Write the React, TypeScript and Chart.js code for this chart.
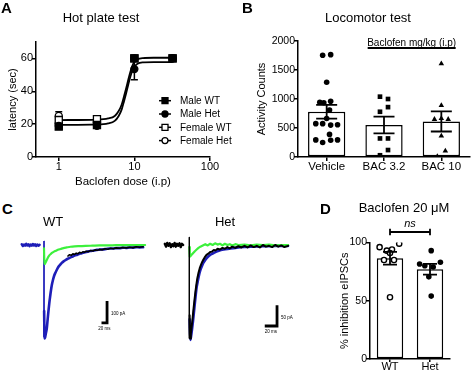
import React, { useEffect, useRef } from 'react';
import { Chart, registerables } from 'chart.js';

Chart.register(...registerables);

const FONT = "'Liberation Sans', Arial, Helvetica, sans-serif";
Chart.defaults.font.family = FONT;
Chart.defaults.color = '#000';

// ===== Panel A: Hot plate test =====
const doses = [1, 3.2, 10, 32];
const maleWT = [18.5, 19.5, 60, 60];
const maleWTErr = [1.5, 1.5, 0, 0];
const maleHet = [19, 19, 53.5, 60];
const maleHetErr = [1.5, 1, 6.5, 0];
const femaleWT = [22.5, 23, 60, 60];
const femaleWTErr = [2, 1.5, 0, 0];
const femaleHet = [25, 21, 60, 60];
const femaleHetErr = [2.5, 1.5, 0, 0];
const fitDoses = [1, 3.2, 4.5, 5.5, 6.2, 6.8, 7.3, 7.8, 8.3, 8.8, 9.4, 10, 11, 13, 18, 32];
const fitUpper = [22.5, 22.8, 23.5, 25, 28, 32, 37, 42, 47, 51.5, 55.5, 58, 59.5, 60.2, 60.4, 60.4];
const fitLower = [19.5, 19.8, 20.5, 22, 25, 29, 34, 39, 44, 48.5, 52.5, 55, 56.8, 57.6, 57.8, 57.8];
const latencyTicks = [0, 20, 40, 60];
const doseTicks = [1, 10, 100];
const legendLabelsA = ['Male WT', 'Male Het', 'Female WT', 'Female Het'];

// ===== Panel B: Locomotor test =====
const locoCategories = ['Vehicle', 'BAC 3.2', 'BAC 10'];
const locoMeans = [780, 551, 614];
const locoSEM = [119, 145, 174];
const vehicleCounts = [1755, 1765, 1290, 945, 935, 960, 810, 665, 575, 575, 555, 550, 390, 295, 250, 290, 295];
const vehicleJitter = [-0.07, 0.07, 0, -0.12, -0.05, 0.07, 0.05, 0, -0.19, -0.07, 0.19, 0.07, 0.05, -0.19, -0.07, 0.07, 0.19];
const bac32Counts = [1040, 1000, 860, 780, 320, 320, 120, 30];
const bac32Jitter = [-0.07, 0.07, 0.07, -0.07, -0.07, 0.07, 0.07, -0.07];
const bac10Counts = [1610, 890, 650, 665, 650, 365, 105, 10];
const bac10Jitter = [0, 0, -0.12, 0, 0.12, 0, 0.07, -0.07];
const locoTicks = [0, 500, 1000, 1500, 2000];

// ===== Panel C: eIPSC traces (time ms, current pA) =====
const wtPreT = [-80, -76, -72, -68, -64, -60, -56, -52, -48, -44, -40, -36, -32, -28, -24, -20, -16];
const wtPreV = [3, -4, 2, -3, 5, -2, 3, -5, 2, -3, 4, -2, 3, -4, 2, -3, 1];
const wtBlueT = [0.5, 2, 4, 7, 10, 13, 16, 19, 22, 25, 28, 32, 36, 40, 45, 51, 58, 65, 72, 80, 88, 96, 104, 112, 120, 128, 136, 144, 152, 160, 170, 180, 190, 200, 212, 224, 236, 248, 260, 272, 284, 296, 308, 320, 332, 344, 357];
const wtBlueV = [-300, -425, -420, -400, -380, -340, -300, -265, -235, -207, -183, -160, -142, -129, -116, -101, -90, -80, -73, -66, -61, -56, -52, -47, -44, -40, -38, -34, -32, -29, -27, -25, -22, -21, -20, -18, -16, -16, -14, -14, -12, -13, -11, -12, -10, -11, -10];
const wtBlackT = [86, 92, 98, 104, 110, 116, 122, 128, 134, 140, 146, 152, 160, 168, 176, 184, 192, 200, 210, 220, 230, 240, 250, 260, 272, 284, 296, 308, 320, 332, 344, 357];
const wtBlackV = [-50, -44, -47, -40, -43, -37, -40, -33, -36, -31, -33, -28, -30, -25, -27, -22, -24, -20, -22, -17, -19, -15, -17, -13, -15, -11, -13, -10, -12, -8, -10, -8];
const wtGreenT = [0, 1.5, 4, 7, 10, 13, 16, 20, 25, 30, 36, 43, 50, 60, 70, 82, 95, 110, 130, 150, 175, 200, 230, 260, 290, 320, 350, 364];
const wtGreenV = [-15, -86, -84, -76, -68, -60, -53, -46, -40, -35, -30, -26, -22, -18, -14, -11, -8, -6, -5, -4, -3, -2, -2, -1, -1, 0, 0, 0];
const wtStimV = [18, -418];

const hetPreT = [-40, -38, -36, -34, -32, -30, -28, -26, -24, -22, -20, -18, -16, -14, -12, -10];
const hetPreV = [3, -4, 5, -2, 4, -5, 2, -3, 5, -4, 3, -2, 4, -5, 3, 0];
const hetBlueT = [0.5, 1.5, 3, 4.5, 6, 7.5, 9, 10.5, 12, 14, 16, 18, 20, 23, 26, 30, 35, 40, 48, 56, 65, 75, 90, 105, 120, 140, 161];
const hetBlueV = [-180, -230, -220, -203, -184, -163, -141, -120, -102, -86, -72, -61, -53, -43, -36, -29, -23, -19, -14, -11, -9, -7, -5, -4, -3, -2, -2];
const hetBlackT = [0.5, 1.2, 2.5, 4, 5.5, 7, 8.5, 10, 11.5, 13, 15, 17, 19, 21, 23, 25, 28, 31, 34, 37, 40, 43, 46, 50, 54, 58, 62, 66, 70, 75, 80, 85, 90, 95, 100, 105, 110, 115, 120, 125, 130, 135, 140, 145, 150, 155, 161];
const hetBlackV = [-170, -226, -215, -196, -175, -153, -132, -113, -96, -81, -67, -56, -48, -41, -35, -30, -24, -21, -17, -16, -12, -13, -9, -11, -7, -9, -5, -8, -4, -7, -3, -6, -2, -6, -1, -5, -2, -6, 0, -4, -2, -5, 0, -4, -1, -5, -2];
const hetGreenT = [0, 0.8, 3, 6, 9, 12, 15, 18, 22, 26, 30, 34, 38, 42, 46, 50, 54, 58, 62, 66, 70, 75, 80, 90, 100, 110, 120, 130, 140, 150, 161];
const hetGreenV = [-5, -28, -25, -20, -15, -11, -7, -4, -1, 2, -1, 3, 0, 4, 1, 3, -1, 3, 0, 2, -1, 2, 0, 1, -1, 1, 0, 1, -1, 0, 0];
const hetStimV = [19, -226];

// ===== Panel D: Baclofen 20 uM =====
const ipscCategories = ['WT', 'Het'];
const ipscMeans = [86.5, 77];
const ipscSEM = [5.5, 4.6];
const wtInhibition = [99, 96, 94, 93, 91, 85, 85, 53];
const wtJitter = [0.23, -0.26, 0.05, -0.08, 0, -0.15, 0.1, 0];
const hetInhibition = [93, 81.5, 83, 80, 79, 70.5, 54];
const hetJitter = [0.03, -0.26, 0.26, -0.13, 0.08, -0.03, 0.03];
const ipscTicks = [0, 50, 100];

const BLUE = '#1e1eb8';
const GREEN = '#3cf03c';
const BLACK = '#000';

const zip = (xs: number[], ys: number[]) => xs.map((x, i) => ({ x, y: ys[i] }));

const gridStyle = (tl: number) => ({ drawOnChartArea: false, drawTicks: true, tickLength: tl, color: '#000', lineWidth: 1.5, offset: false });
const borderStyle = { color: '#000', width: 1.5 };

function yAxis(min: number, max: number, ticks: number[], title: string, titlePad: number, width: number, tickSize: number) {
  return {
    min,
    max,
    afterBuildTicks: (s: any) => { s.ticks = ticks.map((v) => ({ value: v })); },
    afterFit: (s: any) => { s.width = width; },
    ticks: { font: { size: tickSize }, color: '#000', padding: -1, callback: (v: any) => String(v) },
    grid: gridStyle(4),
    border: borderStyle,
    title: { display: true, text: title, font: { size: 11 }, color: '#000', padding: { top: titlePad, bottom: 0 } },
  };
}

function categoryAxis(labels: string[], height: number, fontSize: number, tl: number, pad: number) {
  return {
    type: 'linear',
    offset: false,
    min: -0.5,
    max: labels.length - 0.5,
    afterBuildTicks: (s: any) => { s.ticks = labels.map((_, i) => ({ value: i })); },
    afterFit: (s: any) => { s.height = height; },
    ticks: { font: { size: fontSize }, color: '#000', padding: pad, maxRotation: 0, autoSkip: false, callback: (v: any) => labels[Math.round(v)] },
    grid: gridStyle(tl),
    border: borderStyle,
  };
}

function marker(ctx: CanvasRenderingContext2D, style: string, filled: boolean, x: number, y: number, r: number) {
  ctx.beginPath();
  if (style === 'rect') ctx.rect(x - r, y - r, 2 * r, 2 * r);
  else ctx.arc(x, y, r, 0, Math.PI * 2);
  ctx.fillStyle = filled ? '#000' : '#fff';
  ctx.fill();
  ctx.lineWidth = 1.3;
  ctx.strokeStyle = '#000';
  ctx.stroke();
}

const baseOptions = (padding: any) => ({
  animation: false,
  responsive: false,
  maintainAspectRatio: false,
  devicePixelRatio: 1,
  layout: { padding },
  plugins: { legend: { display: false }, tooltip: { enabled: false } },
});

function makeA(canvas: HTMLCanvasElement) {
  const series = [
    { label: legendLabelsA[0], values: maleWT, errors: maleWTErr, style: 'rect', filled: true, r: 5 },
    { label: legendLabelsA[1], values: maleHet, errors: maleHetErr, style: 'circle', filled: true, r: 3.5 },
    { label: legendLabelsA[2], values: femaleWT, errors: femaleWTErr, style: 'rect', filled: false, r: 5 },
    { label: legendLabelsA[3], values: femaleHet, errors: femaleHetErr, style: 'circle', filled: false, r: 3.5 },
  ];
  const datasets: any[] = series.map((s, i) => ({
    type: 'scatter',
    label: s.label,
    data: zip(doses, s.values),
    pointStyle: s.style,
    pointRadius: s.r,
    backgroundColor: s.filled ? '#000' : '#fff',
    borderColor: '#000',
    borderWidth: 1.3,
    order: i + 1,
  }));
  datasets.push({ type: 'line', label: 'fit upper', data: zip(fitDoses, fitUpper), borderColor: '#000', borderWidth: 1.8, pointRadius: 0, cubicInterpolationMode: 'monotone', order: 10 });
  datasets.push({ type: 'line', label: 'fit lower', data: zip(fitDoses, fitLower), borderColor: '#000', borderWidth: 1.8, pointRadius: 0, cubicInterpolationMode: 'monotone', order: 11 });

  const errPlugin = {
    id: 'errA',
    beforeDatasetsDraw(chart: any) {
      const { ctx, scales: { x, y } } = chart;
      ctx.save();
      ctx.strokeStyle = '#000';
      ctx.lineWidth = 1.5;
      series.forEach((s) => {
        s.values.forEach((v, j) => {
          const e = s.errors[j];
          if (!e) return;
          const px = x.getPixelForValue(doses[j]);
          const t = y.getPixelForValue(v + e);
          const b = y.getPixelForValue(v - e);
          ctx.beginPath();
          ctx.moveTo(px, t); ctx.lineTo(px, b);
          ctx.moveTo(px - 3.5, t); ctx.lineTo(px + 3.5, t);
          ctx.moveTo(px - 3.5, b); ctx.lineTo(px + 3.5, b);
          ctx.stroke();
        });
      });
      ctx.restore();
    },
  };
  const legendPlugin = {
    id: 'legA',
    afterDraw(chart: any) {
      const { ctx, chartArea } = chart;
      ctx.save();
      const mx = chartArea.right - 45;
      series.forEach((s, i) => {
        const y = chartArea.top + 58.7 + i * 13.3;
        ctx.strokeStyle = '#000';
        ctx.lineWidth = 1.5;
        ctx.beginPath(); ctx.moveTo(mx - 6, y); ctx.lineTo(mx + 6, y); ctx.stroke();
        marker(ctx, s.style, s.filled, mx, y, 3);
        ctx.fillStyle = '#000';
        ctx.font = `10px ${FONT}`;
        ctx.textAlign = 'left';
        ctx.textBaseline = 'middle';
        ctx.fillText(s.label, mx + 15, y + 0.5);
      });
      ctx.restore();
    },
  };

  return new Chart(canvas, {
    type: 'scatter',
    data: { datasets },
    options: {
      ...baseOptions({ top: 42, right: 27, left: 0, bottom: 0 }),
      scales: {
        x: {
          type: 'logarithmic',
          min: 0.5,
          max: 100,
          afterBuildTicks: (s: any) => { s.ticks = doseTicks.map((v) => ({ value: v })); },
          afterFit: (s: any) => { s.height = 38; },
          ticks: { callback: (v: any) => String(v), font: { size: 11 }, color: '#000', padding: -1, maxRotation: 0, autoSkip: false },
          grid: gridStyle(4),
          border: borderStyle,
          title: { display: true, text: 'Baclofen dose (i.p)', font: { size: 11.5 }, color: '#000', padding: { top: 0, bottom: 6.4 } },
        },
        y: yAxis(0, 70, latencyTicks, 'latency (sec)', 6, 36, 11),
      },
    } as any,
    plugins: [errPlugin, legendPlugin],
  } as any);
}

function barErrors(chart: any, means: number[], sems: number[], half: number) {
  const { ctx, scales } = chart;
  const x = scales.x, y = scales.y;
  ctx.save();
  ctx.strokeStyle = '#000';
  ctx.lineWidth = 1.8;
  means.forEach((m, i) => {
    const px = x.getPixelForValue(i);
    const t = y.getPixelForValue(m + sems[i]);
    const b = y.getPixelForValue(m - sems[i]);
    ctx.beginPath();
    ctx.moveTo(px, t); ctx.lineTo(px, b);
    ctx.moveTo(px - half, t); ctx.lineTo(px + half, t);
    ctx.moveTo(px - half, b); ctx.lineTo(px + half, b);
    ctx.stroke();
  });
  ctx.restore();
}

function makeB(canvas: HTMLCanvasElement) {
  const groups = [
    { values: vehicleCounts, jitter: vehicleJitter, style: 'circle', r: 2.8 },
    { values: bac32Counts, jitter: bac32Jitter, style: 'rect', r: 3.3 },
    { values: bac10Counts, jitter: bac10Jitter, style: 'triangle', r: 3.2 },
  ];
  const datasets: any[] = [
    { type: 'bar', data: locoMeans.map((m, i) => ({ x: i, y: m })), backgroundColor: '#fff', borderColor: '#000', borderWidth: 1.5, borderSkipped: false, grouped: false, barPercentage: 0.65, categoryPercentage: 1, order: 5 },
  ];
  groups.forEach((g, gi) => {
    datasets.push({
      type: 'scatter',
      data: g.values.map((v, i) => ({ x: gi + g.jitter[i], y: v })),
      pointStyle: g.style,
      pointRadius: g.r,
      backgroundColor: '#000',
      borderColor: '#000',
      borderWidth: 0,
      order: 1,
    });
  });
  const plugin = {
    id: 'errB',
    afterDatasetsDraw(chart: any) {
      barErrors(chart, locoMeans, locoSEM, 10.5);
      const { ctx, scales: { x, y } } = chart;
      const cx = (x.getPixelForValue(1) + x.getPixelForValue(2)) / 2 - 1;
      ctx.save();
      ctx.fillStyle = '#000';
      ctx.font = `10px ${FONT}`;
      ctx.textAlign = 'center';
      ctx.textBaseline = 'middle';
      ctx.fillText('Baclofen mg/kg (i.p)', cx, y.getPixelForValue(1960));
      ctx.strokeStyle = '#000';
      ctx.lineWidth = 2;
      const ly = y.getPixelForValue(1880);
      ctx.beginPath(); ctx.moveTo(cx - 44, ly); ctx.lineTo(cx + 44, ly); ctx.stroke();
      ctx.restore();
    },
  };
  return new Chart(canvas, {
    type: 'bar',
    data: { datasets },
    options: {
      ...baseOptions({ top: 41, right: 1, left: 0, bottom: 0 }),
      scales: {
        x: categoryAxis(locoCategories, 38, 11.5, 4, -1),
        y: yAxis(0, 2000, locoTicks, 'Activity Counts', 18.4, 61, 10.5),
      },
    } as any,
    plugins: [plugin],
  } as any);
}

function makeTrace(canvas: HTMLCanvasElement, xr: number[], yr: number[], datasets: any[], bar: any) {
  const plugin = {
    id: 'scalebar',
    afterDraw(chart: any) {
      const { ctx, scales: { x, y } } = chart;
      const px = x.getPixelForValue(bar.t);
      const pl = x.getPixelForValue(bar.t - bar.ms);
      const pb = y.getPixelForValue(bar.v);
      const pt = y.getPixelForValue(bar.v + bar.pa);
      ctx.save();
      ctx.strokeStyle = '#000';
      ctx.lineWidth = 2.8;
      ctx.lineCap = 'butt';
      ctx.lineJoin = 'miter';
      ctx.beginPath(); ctx.moveTo(px, pt); ctx.lineTo(px, pb); ctx.lineTo(pl, pb); ctx.stroke();
      ctx.fillStyle = '#000';
      ctx.font = `4.5px ${FONT}`;
      ctx.textBaseline = 'middle';
      ctx.textAlign = 'left';
      ctx.fillText(`${bar.pa} pA`, px + 4, (pt + pb) / 2 + 2);
      ctx.textAlign = 'center';
      ctx.fillText(`${bar.ms} ms`, (px + pl) / 2, pb + 6);
      ctx.restore();
    },
  };
  return new Chart(canvas, {
    type: 'line',
    data: { datasets },
    options: {
      ...baseOptions(0),
      elements: { point: { radius: 0 } },
      scales: {
        x: { type: 'linear', min: xr[0], max: xr[1], display: false },
        y: { type: 'linear', min: yr[0], max: yr[1], display: false },
      },
    } as any,
    plugins: [plugin],
  } as any);
}

const trace = (t: number[], v: number[], color: string, width: number, order: number, smooth: boolean) => ({
  data: zip(t, v),
  borderColor: color,
  borderWidth: width,
  pointRadius: 0,
  cubicInterpolationMode: smooth ? 'monotone' : 'default',
  tension: 0,
  borderJoinStyle: 'round',
  borderCapStyle: 'round',
  order,
});

function makeWT(canvas: HTMLCanvasElement) {
  return makeTrace(canvas, [-104.4, 381.6], [-454.5, 68.2], [
    trace(wtPreT, wtPreV, BLUE, 2.6, 6, false),
    trace([0, 0], wtStimV, BLUE, 1, 5, false),
    trace(wtBlueT, wtBlueV, BLUE, 2.6, 4, true),
    trace(wtBlackT, wtBlackV, BLACK, 1.6, 3, false),
    trace(wtGreenT, wtGreenV, GREEN, 2.2, 2, true),
  ], { t: 227, v: -354, pa: 100, ms: 20 });
}

function makeHet(canvas: HTMLCanvasElement) {
  return makeTrace(canvas, [-47.8, 172.3], [-242, 36.3], [
    trace(hetPreT, hetPreV, BLACK, 2.4, 6, false),
    trace(hetBlueT, hetBlueV, BLUE, 2.6, 5, true),
    trace(hetGreenT, hetGreenV, GREEN, 2.2, 4, false),
    trace(hetBlackT, hetBlackV, BLACK, 2, 3, false),
    trace([0, 0], hetStimV, BLACK, 1, 2, false),
  ], { t: 143, v: -196, pa: 50, ms: 20 });
}

function makeD(canvas: HTMLCanvasElement) {
  const datasets: any[] = [
    { type: 'bar', data: ipscMeans.map((m, i) => ({ x: i, y: m })), backgroundColor: '#fff', borderColor: '#000', borderWidth: 1.5, borderSkipped: false, grouped: false, barPercentage: 0.66, categoryPercentage: 1, order: 5 },
    { type: 'scatter', data: wtInhibition.map((v, i) => ({ x: wtJitter[i], y: v })), pointStyle: 'circle', pointRadius: 2.6, backgroundColor: '#fff', borderColor: '#000', borderWidth: 1.4, order: 1 },
    { type: 'scatter', data: hetInhibition.map((v, i) => ({ x: 1 + hetJitter[i], y: v })), pointStyle: 'circle', pointRadius: 2.8, backgroundColor: '#000', borderColor: '#000', borderWidth: 0, order: 1 },
  ];
  const plugin = {
    id: 'errD',
    afterDatasetsDraw(chart: any) {
      barErrors(chart, ipscMeans, ipscSEM, 7);
      const { ctx, scales: { x, y } } = chart;
      const x1 = x.getPixelForValue(0), x2 = x.getPixelForValue(1);
      const yb = y.getPixelForValue(109);
      ctx.save();
      ctx.strokeStyle = '#000';
      ctx.lineWidth = 1.8;
      ctx.beginPath();
      ctx.moveTo(x1, yb); ctx.lineTo(x2, yb);
      ctx.moveTo(x1, yb - 3.2); ctx.lineTo(x1, yb + 3.2);
      ctx.moveTo(x2, yb - 3.2); ctx.lineTo(x2, yb + 3.2);
      ctx.stroke();
      ctx.fillStyle = '#000';
      ctx.font = `italic 11px ${FONT}`;
      ctx.textAlign = 'center';
      ctx.textBaseline = 'middle';
      ctx.fillText('ns', (x1 + x2) / 2, yb - 8);
      ctx.restore();
    },
  };
  return new Chart(canvas, {
    type: 'bar',
    data: { datasets },
    options: {
      ...baseOptions({ top: 52.5, right: 24, left: 0, bottom: 0 }),
      scales: {
        x: categoryAxis(ipscCategories, 16, 11, 3, -2),
        y: yAxis(0, 100, ipscTicks, '% inhibition eIPSCs', 18.5, 50, 10.5),
      },
    } as any,
    plugins: [plugin],
  } as any);
}

const Label = ({ x, y, text, size, bold, align }: any) => (
  <div
    style={{
      position: 'absolute',
      left: align === 'left' ? x : x - 150,
      top: y - size * 0.6,
      width: align === 'left' ? undefined : 300,
      textAlign: align === 'left' ? 'left' : 'center',
      fontSize: size,
      lineHeight: `${size * 1.2}px`,
      fontWeight: bold ? 700 : 400,
      whiteSpace: 'nowrap',
      color: '#000',
    }}
  >
    {text}
  </div>
);

const cv = (left: number, top: number): React.CSSProperties => ({ position: 'absolute', left, top });

export default function App() {
  const refA = useRef<HTMLCanvasElement>(null);
  const refB = useRef<HTMLCanvasElement>(null);
  const refC1 = useRef<HTMLCanvasElement>(null);
  const refC2 = useRef<HTMLCanvasElement>(null);
  const refD = useRef<HTMLCanvasElement>(null);

  useEffect(() => {
    const charts = [
      makeA(refA.current!),
      makeB(refB.current!),
      makeWT(refC1.current!),
      makeHet(refC2.current!),
      makeD(refD.current!),
    ];
    return () => charts.forEach((c) => c.destroy());
  }, []);

  return (
    <div style={{ position: 'absolute', left: 0, top: 0, width: 474, height: 375, background: '#fff', overflow: 'hidden', fontFamily: FONT }}>
      <canvas ref={refA} width={237} height={195} style={cv(0, 0)} />
      <canvas ref={refB} width={237} height={195} style={cv(237, 0)} />
      <canvas ref={refC1} width={135} height={115} style={cv(15, 230)} />
      <canvas ref={refC2} width={135} height={115} style={cv(160, 230)} />
      <canvas ref={refD} width={154} height={185} style={cv(320, 190)} />
      <Label x={1} y={8} text="A" size={15} bold align="left" />
      <Label x={101} y={18} text="Hot plate test" size={13} />
      <Label x={242} y={8} text="B" size={15} bold align="left" />
      <Label x={368} y={18} text="Locomotor test" size={13} />
      <Label x={2} y={209} text="C" size={15} bold align="left" />
      <Label x={53} y={222} text="WT" size={13} />
      <Label x={225} y={222} text="Het" size={13} />
      <Label x={320} y={209} text="D" size={15} bold align="left" />
      <Label x={404} y={208} text="Baclofen 20 μM" size={13} />
    </div>
  );
}
